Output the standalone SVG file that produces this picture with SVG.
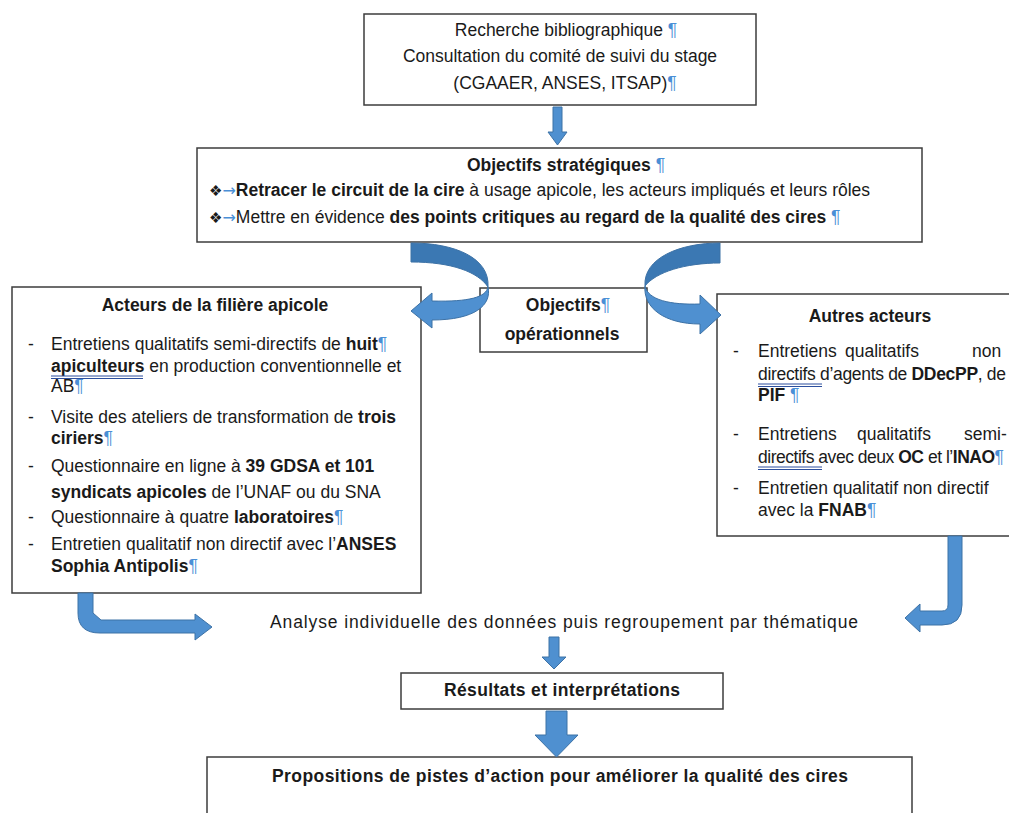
<svg xmlns="http://www.w3.org/2000/svg" width="1009" height="813" viewBox="0 0 1009 813">
<style>
.t{font-family:"Liberation Sans",Arial,sans-serif;font-size:17.5px;fill:#1a1a1a;white-space:pre}
.c{text-anchor:middle}
.b{font-weight:bold}
.pm{fill:#4a8fd6;font-weight:normal}
.tab{fill:#4a8fd6;font-weight:normal;font-family:"DejaVu Sans",sans-serif;font-size:16px}
.sym{font-family:"DejaVu Sans",sans-serif;font-size:15px}
.box{fill:#fff;stroke:#3c3c3c;stroke-width:1.5}
.arr{fill:#4f90d0;stroke:#3d72a6;stroke-width:1}
.arrd{fill:#3b78b3;stroke:#3d72a6;stroke-width:1}
.ul{stroke:#2c4f9e;stroke-width:1}
</style>
<rect width="1009" height="813" fill="#fff"/>
<g id="n-recherche">
<rect class="box" x="364" y="14" width="392" height="91"/>
<text class="t c" x="566" y="36">Recherche bibliographique <tspan class="pm">¶</tspan></text>
<text class="t c" x="560" y="62">Consultation du comité de suivi du stage</text>
<text class="t c" x="565" y="89">(CGAAER, ANSES, ITSAP)<tspan class="pm">¶</tspan></text>
</g>
<g id="n-strategiques">
<rect class="box" x="197" y="148" width="725" height="94"/>
<text class="t c" x="566" y="171"><tspan class="b">Objectifs stratégiques</tspan> <tspan class="pm">¶</tspan></text>
<text class="t" x="209" y="196"><tspan class="sym">❖</tspan><tspan class="tab">→</tspan><tspan class="b">Retracer le circuit de la cire</tspan> à usage apicole, les acteurs impliqués et leurs rôles</text>
<text class="t" x="209" y="223"><tspan class="sym">❖</tspan><tspan class="tab">→</tspan>Mettre en évidence <tspan class="b">des points critiques au regard de la qualité des cires</tspan> <tspan class="pm">¶</tspan></text>
</g>
<g id="n-operationnels">
<rect class="box" x="480" y="288" width="167" height="64"/>
<text class="t c b" x="568" y="311">Objectifs<tspan class="pm">¶</tspan></text>
<text class="t c b" x="562" y="340">opérationnels</text>
</g>
<g id="n-filiere">
<rect class="box" x="12" y="287" width="409" height="306"/>
<text class="t c b" x="215" y="311">Acteurs de la filière apicole</text>
<text class="t" x="28" y="350">-</text>
<text class="t" x="51" y="350">Entretiens qualitatifs semi-directifs de <tspan class="b">huit</tspan><tspan class="pm">¶</tspan></text>
<text class="t" x="51" y="372"><tspan class="b">apiculteurs</tspan> en production conventionnelle et</text>
<line class="ul" x1="51" y1="376" x2="143" y2="376"/><line class="ul" x1="51" y1="378.5" x2="143" y2="378.5"/>
<text class="t" x="51" y="392">AB<tspan class="pm">¶</tspan></text>
<text class="t" x="28" y="423">-</text>
<text class="t" x="51" y="423">Visite des ateliers de transformation de <tspan class="b">trois</tspan></text>
<text class="t" x="51" y="444"><tspan class="b">ciriers</tspan><tspan class="pm">¶</tspan></text>
<text class="t" x="28" y="472">-</text>
<text class="t" x="51" y="472">Questionnaire en ligne à <tspan class="b">39 GDSA et 101</tspan></text>
<text class="t" x="51" y="498"><tspan class="b">syndicats apicoles</tspan> de l’UNAF ou du SNA</text>
<text class="t" x="28" y="523">-</text>
<text class="t" x="51" y="523">Questionnaire à quatre <tspan class="b">laboratoires</tspan><tspan class="pm">¶</tspan></text>
<text class="t" x="28" y="550">-</text>
<text class="t" x="51" y="550">Entretien qualitatif non directif avec l’<tspan class="b">ANSES</tspan></text>
<text class="t" x="51" y="572"><tspan class="b">Sophia Antipolis</tspan><tspan class="pm">¶</tspan></text>
</g>
<g id="n-autres">
<rect class="box" x="717" y="294" width="320" height="242"/>
<text class="t c b" x="870" y="322">Autres acteurs</text>
<text class="t" x="733" y="357">-</text>
<text class="t" x="758" y="357">Entretiens</text>
<text class="t" x="845" y="357">qualitatifs</text>
<text class="t" x="972" y="357">non</text>
<text class="t" x="758" y="380" textLength="248">directifs d’agents de <tspan class="b">DDecPP</tspan>, de</text>
<line class="ul" x1="758" y1="384" x2="822" y2="384"/><line class="ul" x1="758" y1="386.5" x2="822" y2="386.5"/>
<text class="t" x="758" y="401"><tspan class="b">PIF</tspan> <tspan class="pm">¶</tspan></text>
<text class="t" x="733" y="440">-</text>
<text class="t" x="758" y="440">Entretiens</text>
<text class="t" x="857" y="440">qualitatifs</text>
<text class="t" x="964" y="440">semi-</text>
<text class="t" x="758" y="463" textLength="246">directifs avec deux <tspan class="b">OC</tspan> et l’<tspan class="b">INAO</tspan><tspan class="pm">¶</tspan></text>
<line class="ul" x1="758" y1="467" x2="822" y2="467"/><line class="ul" x1="758" y1="469.5" x2="822" y2="469.5"/>
<text class="t" x="733" y="494">-</text>
<text class="t" x="758" y="494">Entretien qualitatif non directif</text>
<text class="t" x="758" y="516">avec la <tspan class="b">FNAB</tspan><tspan class="pm">¶</tspan></text>
</g>
<g id="n-analyse">
<text class="t c" x="564" y="628" textLength="588">Analyse individuelle des données puis regroupement par thématique</text>
</g>
<g id="n-resultats">
<rect class="box" x="401" y="673" width="322" height="36"/>
<text class="t c b" x="562" y="696" textLength="236">Résultats et interprétations</text>
</g>
<g id="n-propositions">
<rect class="box" x="207" y="757" width="705" height="70"/>
<text class="t c b" x="560" y="782" textLength="576">Propositions de pistes d’action pour améliorer la qualité des cires</text>
</g>
<g id="connectors">
<path class="arr" d="M553,107 L562,107 L562,132 L567,132 L557.5,145 L548,132 L553,132 Z"/>
<path class="arrd" d="M411,243 C455,243 490,258 488,287 C478,272 452,262 411,262 Z"/>
<path class="arr" d="M488,287 C486,297 470,302 432,301 L432,293 L411,311 L432,328 L432,320 C475,320 492,305 488,287 Z"/>
<path class="arrd" d="M720,243 L720,263 C685,263 656,272 645,286 C643,258 680,243 720,243 Z"/>
<path class="arr" d="M645,286 C648,300 670,305 700,304 L700,295 L721,315 L700,334 L700,324 C665,324 643,308 645,286 Z"/>
<path class="arr" d="M78,593 L93,593 L93,613 L101,620 L195,620 L195,614 L212,627 L195,640 L195,633 L100,633 Q78,633 78,613 Z"/>
<path class="arr" d="M948,536 L962,536 L962,605 Q962,625 942,625 L920,625 L920,632 L905,618 L920,604 L920,611 L942,611 Q948,611 948,605 Z"/>
<path class="arr" d="M549,637 L559,637 L559,657 L566,657 L554,669 L542,657 L549,657 Z"/>
<path class="arr" d="M546,711 L567,711 L567,735 L578,735 L556.5,757 L535,735 L546,735 Z"/>
</g>
</svg>
